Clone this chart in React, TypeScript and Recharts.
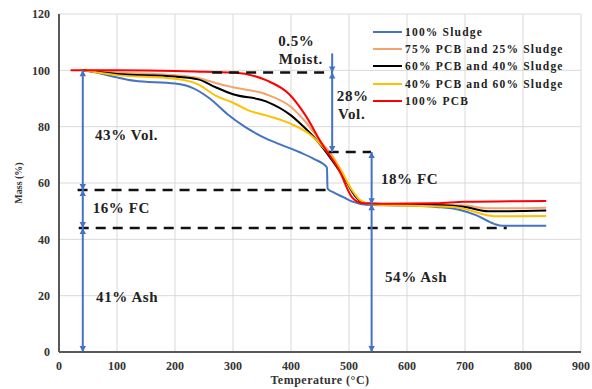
import React from 'react';
import {
  LineChart, Line, XAxis, YAxis, CartesianGrid, Legend, ReferenceLine, ReferenceDot,
} from 'recharts';

// [temperature °C, mass %]
const sludge100 = [
  [40, 100], [70, 99], [100, 97.5], [130, 96.3], [200, 95.3], [230, 93.8], [260, 90],
  [290, 84.5], [320, 80], [350, 76.5], [380, 73.8], [414, 71], [440, 68.5], [462, 65.5],
  [463, 58], [475, 56.5], [490, 55], [505, 53.5], [530, 52.3], [600, 52], [650, 51.5],
  [690, 50.5], [720, 48.5], [750, 45.5], [765, 44.8], [840, 44.8],
];
const pcb75 = [
  [40, 100], [100, 99.2], [200, 98.3], [240, 97.3], [270, 95.5], [300, 94], [357, 91.5],
  [400, 87], [430, 80.5], [450, 75], [470, 70], [490, 63], [505, 57], [520, 53.5],
  [540, 52.6], [600, 52.4], [660, 52.2], [700, 52], [740, 51], [770, 51], [840, 51.2],
];
const pcb60 = [
  [40, 100], [100, 98.7], [200, 97.8], [240, 96.8], [270, 94], [300, 91.5], [357, 89],
  [400, 84], [414, 81.5], [443, 75.5], [471, 68], [494, 61], [510, 55.5], [525, 53],
  [545, 52.6], [600, 52.4], [670, 52], [700, 51.5], [740, 50], [770, 50], [840, 50.2],
];
const pcb40 = [
  [40, 100], [100, 98.3], [200, 97], [240, 95], [270, 91], [300, 88.5], [330, 85.5],
  [357, 84], [400, 81], [431, 77.5], [460, 71.7], [483, 65.7], [505, 57.5], [520, 53.8],
  [540, 52.4], [600, 52], [680, 51.5], [700, 50.8], [740, 48.5], [760, 48.2], [840, 48.3],
];
const pcb100 = [
  [20, 100], [100, 100], [200, 99.8], [250, 99.5], [300, 99.2], [357, 96.5], [397, 91.5],
  [425, 84], [453, 74], [483, 64.5], [505, 55], [520, 53], [540, 52.6], [650, 52.8],
  [700, 53.3], [840, 53.6],
];

const seriesNames = [
  '100% Sludge', '75% PCB and 25% Sludge', '60% PCB and 40% Sludge', '40% PCB and 60% Sludge', '100% PCB',
];
const seriesData = [sludge100, pcb75, pcb60, pcb40, pcb100];
const seriesColors = ['#4472C4', '#F4A46B', '#000000', '#FFC000', '#FF0000'];

const xTicks = [0, 100, 200, 300, 400, 500, 600, 700, 800, 900];
const yTicks = [0, 20, 40, 60, 80, 100, 120];

// dashed guide lines: [mass, from T, to T]
const dashedLines = [
  [99.2, 264, 471],
  [71, 465, 538],
  [57.5, 32, 462],
  [44, 34, 772],
];

// blue arrows: [T, from mass, to mass, both ends?]
const arrows = [
  [41, 100, 57.5, true],
  [41, 57.5, 44, true],
  [41, 44, 0, true],
  [471, 106, 99.2, false],
  [471, 99.2, 71, true],
  [539, 71, 52.5, true],
  [539, 52.5, 0, true],
];

// annotation text: [label, T at left edge, mass]
const notes = [
  ['0.5%', 378, 110.6],
  ['Moist.', 379, 104.2],
  ['28%', 479, 91],
  ['Vol.', 481, 84.7],
  ['43% Vol.', 62, 77.2],
  ['16% FC', 58, 51.3],
  ['41% Ash', 64, 19.7],
  ['18% FC', 555, 61.6],
  ['54% Ash', 562, 26.8],
];

const FONT = '"Liberation Serif", "Times New Roman", serif';
const toPoints = (arr: number[][]) => arr.map(([t, m]) => ({ t, m }));

function ArrowShape(props: any) {
  const { x1, y1, x2, y2, both } = props;
  const color = '#4472C4';
  const head = (tx: number, ty: number, fx: number, fy: number) => {
    const dx = tx - fx, dy = ty - fy;
    const len = Math.hypot(dx, dy) || 1;
    const ux = dx / len, uy = dy / len;
    const L = 6, W = 3.2;
    const bx = tx - ux * L, by = ty - uy * L;
    return `${tx},${ty} ${bx - uy * W},${by + ux * W} ${bx + uy * W},${by - ux * W}`;
  };
  return (
    <g>
      <line x1={x1} y1={y1} x2={x2} y2={y2} stroke={color} strokeWidth={2} />
      <polygon points={head(x2, y2, x1, y1)} fill={color} />
      {both && <polygon points={head(x1, y1, x2, y2)} fill={color} />}
    </g>
  );
}

function LegendBox() {
  return (
    <div style={{ fontFamily: FONT, fontWeight: 'bold', fontSize: 11.5, letterSpacing: 1.2, color: '#222', whiteSpace: 'nowrap' }}>
      {seriesNames.map((name, i) => (
        <div key={name} style={{ display: 'flex', alignItems: 'center', height: 17.3 }}>
          <span style={{ display: 'inline-block', width: 29, height: 2, background: seriesColors[i], marginRight: 3 }} />
          <span>{name}</span>
        </div>
      ))}
    </div>
  );
}

export default function App() {
  const tickStyle = { fontFamily: FONT, fontWeight: 'bold', fontSize: 12, fill: '#333' };
  return (
    <div style={{ position: 'absolute', left: 0, top: 0 }}>
      <LineChart width={592} height={389} margin={{ top: 14, right: 11, left: 11, bottom: 0 }}>
        <CartesianGrid stroke="#d9d9d9" strokeWidth={1} />
        <XAxis
          dataKey="t"
          type="number"
          domain={[0, 900]}
          ticks={xTicks}
          allowDataOverflow
          height={37}
          tickSize={0}
          tickMargin={9}
          tick={tickStyle}
          axisLine={{ stroke: '#595959', strokeWidth: 2 }}
          label={{
            value: 'Temperature (°C)', position: 'insideBottom', offset: 5,
            style: { fontFamily: FONT, fontWeight: 'bold', fontSize: 12, letterSpacing: 0.5, fill: '#333' },
          }}
        />
        <YAxis
          type="number"
          domain={[0, 120]}
          ticks={yTicks}
          width={48}
          tickSize={0}
          tickMargin={9}
          tick={tickStyle}
          axisLine={{ stroke: '#595959', strokeWidth: 2 }}
          label={{
            value: 'Mass (%)', angle: -90, position: 'insideLeft', offset: 7, textAnchor: 'middle',
            style: { fontFamily: FONT, fontWeight: 'bold', fontSize: 10, fill: '#333', textAnchor: 'middle' },
          }}
        />
        {seriesData.map((arr, i) => (
          <Line
            key={seriesNames[i]}
            name={seriesNames[i]}
            data={toPoints(arr)}
            dataKey="m"
            type="monotone"
            stroke={seriesColors[i]}
            strokeWidth={2}
            dot={false}
            isAnimationActive={false}
          />
        ))}
        {dashedLines.map(([m, a, b], i) => (
          <ReferenceLine
            key={`d${i}`}
            segment={[{ x: a, y: m }, { x: b, y: m }]}
            stroke="#111"
            strokeWidth={2.5}
            strokeDasharray="10 7"
          />
        ))}
        {arrows.map(([t, a, b, both], i) => (
          <ReferenceLine
            key={`a${i}`}
            segment={[{ x: t as number, y: a as number }, { x: t as number, y: b as number }]}
            shape={(p: any) => <ArrowShape {...p} both={both} />}
          />
        ))}
        {notes.map(([text, t, m]) => (
          <ReferenceDot
            key={text as string}
            x={t as number}
            y={m as number}
            r={0}
            fill="none"
            stroke="none"
            label={{
              value: text, position: 'right', offset: 0,
              style: { fontFamily: FONT, fontWeight: 'bold', fontSize: 15, letterSpacing: 0.6, fill: '#222' },
            }}
          />
        ))}
        <Legend
          layout="vertical"
          align="center"
          verticalAlign="middle"
          content={() => <LegendBox />}
          wrapperStyle={{ left: 373, top: 23, width: 'auto' }}
        />
      </LineChart>
    </div>
  );
}
